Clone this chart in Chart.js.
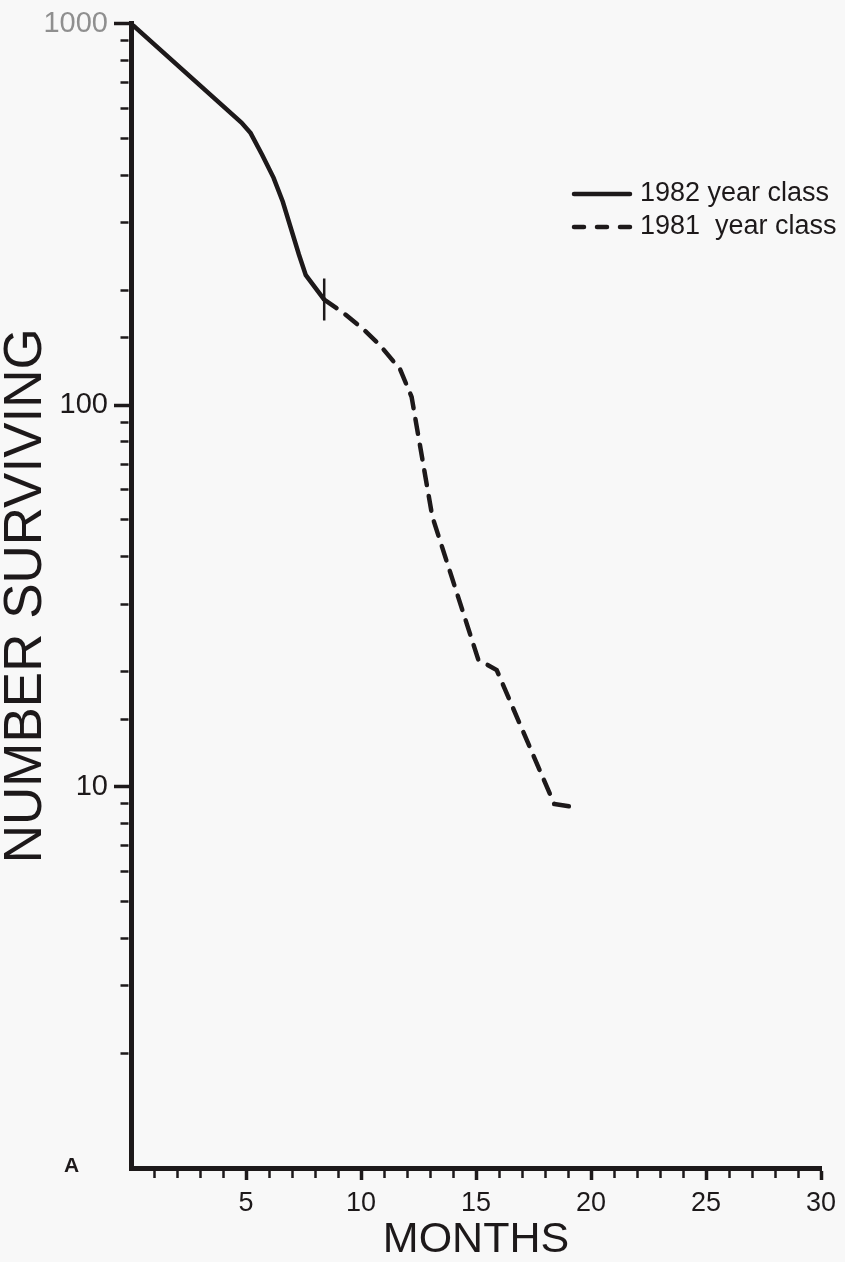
<!DOCTYPE html>
<html>
<head>
<meta charset="utf-8">
<title>Number surviving by month</title>
<script src="https://cdn.jsdelivr.net/npm/chart.js@4.4.1/dist/chart.umd.min.js"></script>
<style>
  html, body { margin: 0; padding: 0; background: #f8f8f8; }
  #wrap { position: relative; width: 845px; height: 1262px; }
</style>
</head>
<body>
<div id="wrap"><canvas id="survival" width="845" height="1262"></canvas></div>
<script>
// values (log scale, months from start)
const months1982 = [0, 4.8, 5.2, 5.7, 6.2, 6.6, 7.3, 7.6, 8.4];
const surviving1982 = [1000, 550, 516, 453, 394, 341, 248, 219, 189];

const months1981 = [8.4, 9.2, 10.1, 10.8, 11.7, 12.2, 13.1, 15.1, 15.9, 18.4, 19.4];
const surviving1981 = [189, 175, 158, 144, 124, 105, 51, 21.5, 20.2, 9, 8.8];

const seriesLabels = ['1982 year class', '1981  year class'];
const xTickLabels = [5, 10, 15, 20, 25, 30];
const yTickLabels = [10, 100, 1000];

const INK = '#1d191a';
const FONT = '"Liberation Sans", Arial, Helvetica, sans-serif';

Chart.defaults.font.family = FONT;
Chart.defaults.color = INK;

function toPoints(xs, ys) {
  return xs.map((x, i) => ({ x: x, y: ys[i] }));
}

function isDecade(v) {
  const e = Math.log10(v);
  return Math.abs(e - Math.round(e)) < 1e-6;
}

// legend sits in the upper right, stacked; plus the panel letter
const cornerLegend = {
  id: 'cornerLegend',
  afterDraw(chart) {
    const ctx = chart.ctx;
    ctx.save();
    chart.data.datasets.forEach((ds, i) => {
      const y = 194 + i * 33;
      ctx.beginPath();
      ctx.setLineDash(ds.legendDash || []);
      ctx.lineWidth = 4.5;
      ctx.lineCap = 'round';
      ctx.strokeStyle = ds.borderColor;
      ctx.moveTo(574, y);
      ctx.lineTo(630, y);
      ctx.stroke();
      ctx.setLineDash([]);
      ctx.font = '27px ' + FONT;
      ctx.fillStyle = INK;
      ctx.textBaseline = 'middle';
      ctx.textAlign = 'left';
      ctx.fillText(ds.label, 640, y);
    });
    ctx.font = 'bold 21px ' + FONT;
    ctx.fillText('A', 64, 1166);
    ctx.restore();
  }
};

new Chart(document.getElementById('survival'), {
  type: 'line',
  data: {
    datasets: [
      {
        label: seriesLabels[0],
        data: toPoints(months1982, surviving1982),
        borderColor: INK,
        borderWidth: 4.5,
        tension: 0,
        pointStyle: 'line',
        rotation: 90,
        pointRadius: ctx => ctx.dataIndex === months1982.length - 1 ? 21 : 0,
        pointBorderWidth: 2.5,
        pointBorderColor: INK,
        legendDash: []
      },
      {
        label: seriesLabels[1],
        data: toPoints(months1981, surviving1981),
        borderColor: INK,
        borderWidth: 4.5,
        borderDash: [15, 11],
        borderCapStyle: 'round',
        tension: 0,
        pointRadius: 0,
        legendDash: [10, 13]
      }
    ]
  },
  options: {
    responsive: false,
    animation: false,
    layout: { padding: { top: 18, right: 24, bottom: 0, left: 0 } },
    plugins: {
      legend: { display: false },
      tooltip: { enabled: false }
    },
    scales: {
      x: {
        type: 'linear',
        position: 'bottom',
        min: 0,
        max: 30,
        afterFit(scale) { scale.height = 94; },
        border: { display: true, width: 5, color: INK },
        grid: {
          drawOnChartArea: false,
          drawTicks: true,
          tickLength: 12,
          tickColor: ctx => (ctx.tick && ctx.tick.value === 0) ? 'rgba(0,0,0,0)' : INK,
          tickWidth: ctx => (ctx.tick && ctx.tick.value % 5 === 0) ? 3.5 : 2.5,
          tickBorderDash: ctx => (ctx.tick && ctx.tick.value % 5 === 0) ? [] : [7, 100]
        },
        ticks: {
          stepSize: 1,
          autoSkip: false,
          maxRotation: 0,
          padding: 7,
          font: { size: 27 },
          color: INK,
          callback: v => xTickLabels.includes(v) ? String(v) : ''
        },
        title: {
          display: true,
          text: 'MONTHS',
          font: { size: 43, lineHeight: 1 },
          padding: { top: 0, bottom: 0 },
          color: INK
        }
      },
      y: {
        type: 'logarithmic',
        position: 'left',
        min: 1,
        max: 1000,
        afterFit(scale) {
          scale.width = 131;
          // let the 1000 label hang over the top edge like the original
          scale.paddingTop = 0;
          scale.paddingBottom = 0;
        },
        border: { display: true, width: 5, color: INK },
        grid: {
          drawOnChartArea: false,
          drawTicks: true,
          tickLength: 17,
          tickColor: ctx => (ctx.tick && ctx.tick.value === 1) ? 'rgba(0,0,0,0)' : INK,
          tickWidth: ctx => (ctx.tick && isDecade(ctx.tick.value)) ? 3.5 : 2.5,
          tickBorderDash: ctx => (ctx.tick && isDecade(ctx.tick.value)) ? [] : [0, 6.5, 8, 100]
        },
        ticks: {
          autoSkip: false,
          padding: 6,
          font: { size: 29 },
          color: ctx => (ctx.tick && ctx.tick.value === 1000) ? '#8f8f8f' : INK,
          callback: v => {
            const r = Math.round(v);
            return (yTickLabels.includes(r) && Math.abs(v - r) < 1e-6) ? String(r) : '';
          }
        },
        title: {
          display: true,
          text: 'NUMBER SURVIVING',
          font: { size: 53, lineHeight: 1 },
          padding: { top: 0, bottom: 0 },
          color: INK
        }
      }
    }
  },
  plugins: [cornerLegend]
});
</script>
</body>
</html>
